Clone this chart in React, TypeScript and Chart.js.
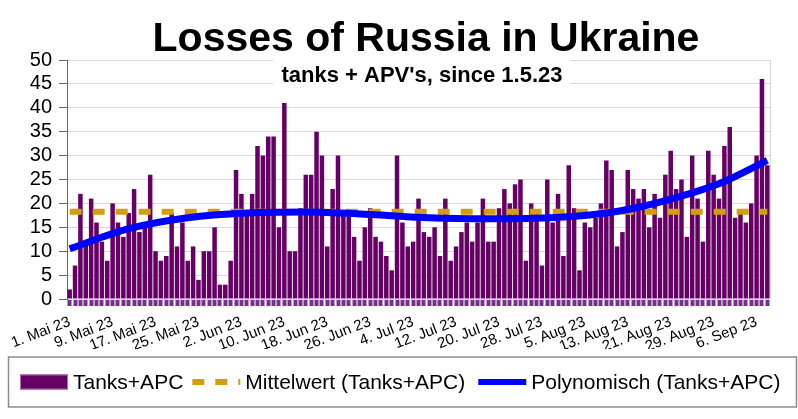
import React, { useEffect, useRef } from 'react';
import { Chart, registerables } from 'chart.js';

Chart.register(...registerables);

const FONT = '"Liberation Sans", Arial, Helvetica, sans-serif';

// Categories: one bar per day, 1. Mai 23 .. 8. Sep 23
const monthNames = ['Mai', 'Jun', 'Jul', 'Aug', 'Sep'];
const monthLengths = [31, 30, 31, 31, 8];
const yearSuffix = '23';
const TICK_STEP = 8;

// Daily losses (tanks + APC)
const mayValues = [2, 7, 22, 12, 21, 16, 12, 8, 20, 16, 13, 18, 23, 14, 15, 26, 10, 8, 9, 18, 11, 16, 8, 11, 4, 10, 10, 15, 3, 3, 8];
const junValues = [27, 22, 18, 22, 32, 30, 34, 34, 15, 41, 10, 10, 19, 26, 26, 35, 30, 11, 23, 30, 18, 18, 13, 8, 15, 19, 13, 12, 9, 6];
const julValues = [30, 16, 11, 12, 21, 14, 13, 15, 9, 21, 8, 11, 14, 16, 12, 16, 21, 12, 12, 19, 23, 20, 24, 25, 8, 20, 18, 7, 25, 16, 22];
const augValues = [9, 28, 19, 6, 16, 15, 17, 20, 29, 27, 11, 14, 27, 23, 21, 23, 15, 22, 17, 26, 31, 23, 25, 13, 30, 21, 12, 31, 26, 21, 32];
const sepValues = [36, 17, 18, 16, 20, 30, 46, 28];

// Mean line value
const meanValue = 18.25;

// Polynomial trend, read at these days
const trendDays = ['1. Mai 23', '12. Mai 23', '23. Mai 23', '3. Jun 23', '14. Jun 23', '26. Jun 23', '7. Jul 23', '18. Jul 23', '27. Jul 23', '9. Aug 23', '15. Aug 23', '20. Aug 23', '25. Aug 23', '31. Aug 23', '8. Sep 23'];
const trendValues = [10.5, 14.7, 17.0, 18.0, 18.2, 17.7, 17.0, 16.8, 16.9, 18.0, 19.2, 20.6, 22.2, 24.6, 29.0];

const TITLE = 'Losses of Russia in Ukraine';
const SUBTITLE = "tanks + APV's, since 1.5.23";
const seriesNames = ['Tanks+APC', 'Mittelwert (Tanks+APC)', 'Polynomisch (Tanks+APC)'];

const BAR_COLOR = '#650065';
const MEAN_COLOR = '#d29f12';
const TREND_COLOR = '#0000ff';

const categories: string[] = [];
monthNames.forEach((m, i) => {
  for (let d = 1; d <= monthLengths[i]; d++) categories.push(`${d}. ${m} ${yearSuffix}`);
});
const values = [...mayValues, ...junValues, ...julValues, ...augValues, ...sepValues];

const decorPlugin = {
  id: 'decor',
  beforeDatasetsDraw(chart: any) {
    const { ctx, chartArea } = chart;
    ctx.save();
    // right frame line
    ctx.strokeStyle = '#d4d4d4';
    ctx.lineWidth = 1;
    ctx.beginPath();
    ctx.moveTo(Math.round(chartArea.right) + 0.5, chartArea.top);
    ctx.lineTo(Math.round(chartArea.right) + 0.5, chartArea.bottom);
    ctx.stroke();
    // subtitle on white box inside plot
    const cx = (chartArea.left + chartArea.right) / 2 + 3.5;
    ctx.font = `bold 22px ${FONT}`;
    const w = ctx.measureText(SUBTITLE).width;
    ctx.fillStyle = '#ffffff';
    ctx.fillRect(cx - w / 2 - 8, chartArea.top - 3, w + 16, 31);
    ctx.fillStyle = '#000000';
    ctx.textAlign = 'center';
    ctx.textBaseline = 'alphabetic';
    ctx.fillText(SUBTITLE, cx, chartArea.top + 22);
    ctx.restore();
  },
  afterDraw(chart: any) {
    const { ctx, chartArea } = chart;
    ctx.save();
    // title
    ctx.fillStyle = '#000000';
    ctx.textAlign = 'center';
    ctx.textBaseline = 'alphabetic';
    ctx.font = `bold 41px ${FONT}`;
    ctx.fillText(TITLE, (chartArea.left + chartArea.right) / 2 + 7.5, 51);

    // legend
    const ds = chart.data.datasets;
    const cy = 382;
    ctx.font = `21px ${FONT}`;
    ctx.textAlign = 'left';
    ctx.textBaseline = 'middle';
    let x = 20;
    const gaps = [9, 13, 0];
    ds.forEach((d: any, i: number) => {
      if (i === 0) {
        ctx.fillStyle = d.backgroundColor;
        ctx.fillRect(x, cy - 7.5, 48, 15);
        ctx.strokeStyle = '#b070b0';
        ctx.lineWidth = 1;
        ctx.strokeRect(x + 0.5, cy - 7, 47, 14);
      } else {
        ctx.strokeStyle = d.borderColor;
        ctx.lineWidth = 6;
        ctx.setLineDash(d.borderDash || []);
        ctx.beginPath();
        ctx.moveTo(x, cy);
        ctx.lineTo(x + 48, cy);
        ctx.stroke();
        ctx.setLineDash([]);
      }
      x += 53;
      ctx.fillStyle = '#000000';
      ctx.fillText(d.label, x, cy + 1);
      x += ctx.measureText(d.label).width + gaps[i];
    });
    ctx.strokeStyle = '#8c8c8c';
    ctx.lineWidth = 1.5;
    ctx.strokeRect(8.5, cy - 25, chart.width - 10, 50);
    ctx.restore();
  },
};

export default function App() {
  const ref = useRef<HTMLCanvasElement>(null);
  useEffect(() => {
    if (!ref.current) return;
    const chart = new Chart(ref.current, {
      type: 'bar',
      data: {
        labels: categories,
        datasets: [
          {
            type: 'bar',
            label: seriesNames[0],
            data: values,
            backgroundColor: BAR_COLOR,
            borderWidth: 0,
            barPercentage: 0.84,
            categoryPercentage: 1,
            order: 3,
          },
          {
            type: 'line',
            label: seriesNames[1],
            data: categories.map(() => meanValue),
            borderColor: MEAN_COLOR,
            backgroundColor: MEAN_COLOR,
            borderWidth: 6,
            borderDash: [12, 11],
            pointRadius: 0,
            fill: false,
            order: 2,
          },
          {
            type: 'line',
            label: seriesNames[2],
            data: trendDays.map((d, i) => ({ x: d, y: trendValues[i] })),
            borderColor: TREND_COLOR,
            backgroundColor: TREND_COLOR,
            borderWidth: 7,
            pointRadius: 0,
            cubicInterpolationMode: 'monotone',
            fill: false,
            order: 1,
          },
        ] as any,
      },
      options: {
        responsive: false,
        maintainAspectRatio: false,
        animation: false,
        layout: { padding: { top: 60, right: 28, bottom: 70, left: 0 } },
        plugins: {
          legend: { display: false },
          title: { display: false },
          tooltip: { enabled: false },
        },
        scales: {
          x: {
            ticks: {
              autoSkip: false,
              minRotation: 21,
              maxRotation: 21,
              padding: 7,
              color: '#000000',
              font: { family: FONT, size: 15 },
              callback: (_v: any, i: number) => (i % TICK_STEP === 0 ? categories[i] : ''),
            },
            grid: {
              drawOnChartArea: false,
              offset: false,
              tickLength: 7,
              tickWidth: 4,
              tickColor: '#74328e',
            },
            border: { display: false },
            afterFit: (s: any) => {
              s.height = 50;
            },
          },
          y: {
            min: 0,
            max: 50,
            ticks: {
              stepSize: 5,
              autoSkip: false,
              padding: 7,
              color: '#000000',
              font: { family: FONT, size: 20 },
            },
            grid: {
              color: '#d9d9d9',
              lineWidth: 1,
              tickLength: 8,
              tickColor: '#666666',
            },
            border: { color: '#666666', width: 1 },
            afterFit: (s: any) => {
              s.width = 67;
            },
          },
        },
      } as any,
      plugins: [decorPlugin],
    });
    return () => chart.destroy();
  }, []);
  return (
    <div style={{ position: 'fixed', left: 0, top: 0, width: 798, height: 419, background: '#ffffff' }}>
      <canvas ref={ref} width={798} height={419} style={{ display: 'block', width: 798, height: 419 }} />
    </div>
  );
}
